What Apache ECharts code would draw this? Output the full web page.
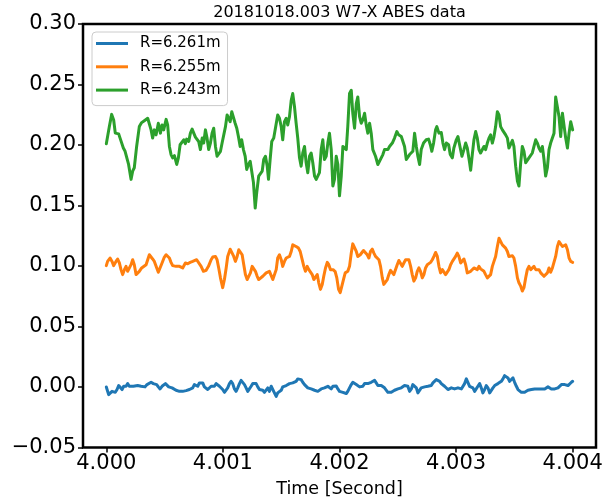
<!DOCTYPE html>
<html>
<head>
<meta charset="utf-8">
<title>20181018.003 W7-X ABES data</title>
<script src="https://cdn.jsdelivr.net/npm/echarts@6/dist/echarts.min.js"></script>
<style>
  html, body { margin: 0; padding: 0; background: #ffffff; }
  #chart { width: 603px; height: 501px; }
</style>
</head>
<body>
<div id="chart"></div>
<script>
// Time base of the window (seconds); sample times below are offsets in microseconds.
const T0 = 4.000;

const chartTitle = '20181018.003 W7-X ABES data';
const xAxisTitle = 'Time [Second]';
const seriesNames = ['R=6.261m', 'R=6.255m', 'R=6.243m'];
const seriesColors = ['#1f77b4', '#ff7f0e', '#2ca02c'];
const xTickValues = [4.000, 4.001, 4.002, 4.003, 4.004];
const yMin = -0.05, yMax = 0.30, yStep = 0.05;

// R = 6.261 m
const timeR6261 = [
  0,20,34,49,63,77,92,106,120,135,
  149,169,183,197,212,232,249,269,283,298,
  312,332,349,363,384,403,418,432,446,461,
  478,492,507,521,535,549,564,578,598,627,
  655,684,713,727,741,755,770,784,798,813,
  827,841,856,870,884,899,913,927,942,955,
  970,985,998,1013,1028,1041,1056,1070,1084,1099,
  1113,1127,1142,1156,1170,1185,1199,1213,1228,1242,
  1256,1271,1285,1299,1313,1328,1342,1356,1371,1385,
  1399,1414,1428,1442,1457,1470,1485,1500,1513,1528,
  1543,1556,1571,1586,1599,1614,1628,1642,1657,1671,
  1685,1700,1714,1728,1743,1757,1771,1786,1800,1814,
  1828,1843,1857,1871,1886,1900,1914,1929,1943,1957,
  1972,1986,2000,2015,2029,2043,2058,2071,2086,2101,
  2114,2129,2144,2157,2172,2186,2200,2215,2229,2243,
  2258,2272,2286,2301,2315,2329,2343,2358,2372,2386,
  2401,2415,2429,2444,2458,2472,2487,2501,2515,2530,
  2543,2558,2573,2586,2601,2616,2629,2644,2659,2672,
  2687,2701,2715,2730,2744,2758,2773,2787,2801,2816,
  2830,2844,2859,2873,2887,2901,2916,2930,2944,2959,
  2973,2987,3002,3016,3030,3045,3059,3073,3088,3101,
  3116,3131,3144,3159,3174,3187,3202,3216,3230,3245,
  3259,3273,3288,3302,3316,3331,3345,3359,3374,3388,
  3402,3416,3431,3445,3459,3474,3488,3502,3517,3531,
  3545,3560,3574,3588,3603,3616,3631,3646,3659,3674,
  3689,3702,3717,3732,3745,3760,3774,3788,3803,3817,
  3831,3846,3860,3874,3889,3903,3917,3932,3946,3960,
  3974,3989,4000
];
const valueR6261 = [
  0.0000,-0.0063,-0.0071,-0.0036,-0.0027,-0.0044,-0.0021,0.0012,0.0001,-0.0021,
  0.0006,0.0006,0.0028,0.0006,-0.0007,0.0006,0.0020,0.0012,0.0020,0.0006,
  -0.0007,0.0001,0.0020,0.0028,0.0039,0.0028,0.0039,0.0020,0.0001,-0.0016,
  0.0006,0.0020,0.0028,0.0012,0.0001,0.0006,-0.0007,-0.0016,-0.0027,-0.0036,
  -0.0036,-0.0030,-0.0021,-0.0007,-0.0007,0.0020,0.0034,0.0006,0.0034,0.0020,
  0.0034,0.0001,0.0006,-0.0021,-0.0007,0.0006,-0.0007,0.0006,0.0028,0.0039,
  0.0006,-0.0007,-0.0021,-0.0044,-0.0049,-0.0007,0.0028,0.0047,0.0028,-0.0016,
  -0.0036,-0.0007,0.0028,0.0055,0.0047,0.0020,-0.0007,-0.0036,-0.0027,0.0006,
  0.0028,0.0039,0.0028,0.0001,-0.0021,-0.0016,-0.0027,-0.0044,-0.0036,-0.0007,
  -0.0036,0.0006,-0.0007,-0.0049,-0.0077,-0.0049,-0.0036,-0.0027,0.0001,-0.0007,
  0.0012,0.0006,0.0028,0.0020,0.0034,0.0028,0.0047,0.0067,0.0067,0.0061,
  0.0039,0.0020,0.0006,-0.0007,-0.0021,-0.0016,-0.0021,-0.0027,-0.0021,-0.0036,
  -0.0027,-0.0016,-0.0027,-0.0007,-0.0007,0.0006,-0.0007,-0.0016,0.0006,0.0020,
  0.0008,-0.0016,-0.0036,-0.0036,-0.0044,-0.0049,-0.0054,-0.0036,-0.0007,0.0020,
  0.0039,0.0034,0.0020,0.0012,0.0001,-0.0007,0.0006,0.0028,0.0039,0.0028,
  0.0034,0.0039,0.0047,0.0055,0.0034,0.0012,0.0020,0.0012,0.0001,-0.0007,
  -0.0021,-0.0044,-0.0054,-0.0044,-0.0036,-0.0027,-0.0021,-0.0016,-0.0021,-0.0007,
  0.0001,0.0012,0.0028,0.0006,-0.0036,-0.0016,0.0020,0.0028,-0.0007,-0.0049,
  -0.0044,-0.0007,0.0006,0.0001,0.0006,0.0006,0.0020,0.0012,0.0034,0.0047,
  0.0061,0.0067,0.0047,0.0028,0.0012,0.0006,-0.0007,-0.0021,-0.0027,-0.0007,
  0.0001,-0.0016,-0.0021,-0.0007,0.0001,-0.0016,-0.0007,0.0028,0.0067,0.0039,
  0.0006,0.0001,-0.0007,-0.0036,-0.0027,0.0006,0.0028,-0.0007,-0.0049,-0.0021,
  0.0012,-0.0007,-0.0049,-0.0036,-0.0007,0.0012,0.0020,0.0028,0.0039,0.0047,
  0.0067,0.0094,0.0102,0.0075,0.0047,0.0061,0.0075,0.0039,0.0006,-0.0021,
  -0.0036,-0.0044,-0.0054,-0.0044,-0.0036,-0.0027,-0.0036,-0.0021,-0.0007,-0.0016,
  -0.0027,-0.0016,-0.0007,-0.0016,-0.0007,-0.0016,-0.0007,0.0001,-0.0007,-0.0016,
  -0.0007,-0.0016,-0.0021,-0.0007,0.0006,0.0020,0.0028,0.0020,0.0006,0.0012,
  0.0028,0.0039,0.0047
];

// R = 6.255 m
const timeR6255 = [
  0,11,32,49,63,83,97,112,126,140,
  155,169,183,197,212,226,240,255,269,283,
  303,320,341,355,369,384,397,412,427,446,
  461,478,498,513,526,541,555,569,598,627,
  655,678,698,719,741,755,775,792,813,833,
  856,876,899,913,936,950,964,979,998,1013,
  1028,1041,1062,1079,1093,1107,1122,1136,1150,1165,
  1179,1193,1208,1222,1236,1251,1264,1279,1294,1307,
  1322,1342,1356,1371,1385,1399,1414,1428,1442,1457,
  1470,1485,1500,1513,1528,1543,1556,1571,1586,1599,
  1614,1628,1648,1663,1680,1694,1708,1723,1737,1751,
  1766,1780,1794,1809,1822,1837,1852,1865,1880,1895,
  1908,1923,1945,1963,1977,1992,2006,2020,2034,2049,
  2071,2086,2101,2114,2129,2144,2157,2178,2192,2206,
  2223,2238,2252,2266,2281,2295,2309,2324,2338,2352,
  2367,2380,2395,2410,2423,2438,2453,2466,2481,2495,
  2509,2524,2538,2552,2567,2581,2595,2610,2624,2638,
  2653,2667,2681,2695,2710,2724,2738,2753,2767,2781,
  2796,2810,2824,2839,2853,2867,2882,2895,2910,2925,
  2938,2953,2968,2981,2996,3010,3024,3039,3053,3067,
  3082,3096,3110,3125,3139,3153,3168,3182,3196,3210,
  3225,3239,3253,3268,3282,3296,3311,3325,3339,3354,
  3368,3382,3397,3411,3425,3440,3453,3468,3483,3496,
  3511,3526,3539,3554,3568,3582,3597,3611,3625,3640,
  3654,3668,3683,3697,3711,3726,3740,3754,3768,3783,
  3797,3811,3826,3840,3854,3869,3883,3897,3912,3926,
  3940,3955,3969,3983,4000
];
const valueR6255 = [
  0.1003,0.1038,0.1066,0.1038,0.1003,0.1038,0.1058,0.1025,0.0970,0.0929,
  0.0970,0.0997,0.0956,0.0948,0.1011,0.1052,0.1011,0.0929,0.0921,0.0956,
  0.0984,0.0997,0.1011,0.1052,0.1093,0.1107,0.1058,0.1038,0.0997,0.0948,
  0.0956,0.1025,0.1074,0.1093,0.1093,0.1066,0.1030,0.1003,0.0997,0.0997,
  0.0984,0.1025,0.1019,0.1030,0.1038,0.1030,0.1052,0.1066,0.0997,0.0956,
  0.0964,0.0997,0.1052,0.1074,0.1079,0.1052,0.0984,0.0902,0.0821,0.0888,
  0.0984,0.1079,0.1139,0.1134,0.1079,0.1038,0.1079,0.1134,0.1148,0.1093,
  0.1011,0.0929,0.0888,0.0902,0.0943,0.0997,0.1011,0.0956,0.0915,0.0888,
  0.0902,0.0915,0.0902,0.0943,0.0929,0.0956,0.0970,0.0888,0.0902,0.0970,
  0.1066,0.1093,0.1052,0.0997,0.1038,0.1066,0.1052,0.1079,0.1120,0.1175,
  0.1183,0.1161,0.1148,0.1120,0.1052,0.0997,0.0956,0.0997,0.0970,0.0984,
  0.0929,0.0888,0.0902,0.0929,0.0861,0.0807,0.0848,0.0915,0.0984,0.1030,
  0.1011,0.0970,0.0970,0.0954,0.0902,0.0807,0.0780,0.0793,0.0888,0.0943,
  0.0956,0.0997,0.1107,0.1183,0.1175,0.1120,0.1079,0.1093,0.1107,0.1128,
  0.1112,0.1093,0.1066,0.1120,0.1139,0.1107,0.1079,0.1066,0.1052,0.0997,
  0.0902,0.0848,0.0848,0.0888,0.0929,0.0964,0.0956,0.0929,0.0943,0.1011,
  0.1046,0.1038,0.0997,0.1025,0.1052,0.1058,0.1052,0.0997,0.0929,0.0875,
  0.0902,0.0956,0.0984,0.0956,0.0902,0.0929,0.0984,0.1011,0.1025,0.1030,
  0.1052,0.1079,0.1112,0.1079,0.0997,0.0943,0.0970,0.0956,0.0929,0.0929,
  0.0970,0.1011,0.1038,0.1038,0.1079,0.1107,0.1079,0.1025,0.1038,0.1058,
  0.1011,0.0943,0.0929,0.0956,0.0970,0.0984,0.0984,0.0970,0.0997,0.0976,
  0.0970,0.0956,0.0929,0.0902,0.0888,0.0929,0.0997,0.1038,0.1079,0.1161,
  0.1229,0.1215,0.1175,0.1161,0.1148,0.1120,0.1079,0.1066,0.1085,0.1066,
  0.0997,0.0902,0.0861,0.0834,0.0793,0.0821,0.0902,0.0970,0.0997,0.0970,
  0.0984,0.0997,0.0970,0.0956,0.0970,0.0943,0.0948,0.0915,0.0902,0.0943,
  0.0984,0.0948,0.0984,0.0997,0.1079,0.1161,0.1202,0.1189,0.1161,0.1167,
  0.1175,0.1134,0.1066,0.1038,0.1030
];

// R = 6.243 m
const timeR6243 = [
  0,26,46,63,77,92,106,118,131,146,
  161,174,191,212,226,240,260,283,303,326,
  341,355,369,384,397,412,427,446,464,478,
  492,513,526,541,555,569,584,604,618,633,
  650,664,678,689,707,721,736,749,764,779,
  792,807,822,835,850,864,878,893,907,921,
  936,950,964,979,993,1007,1022,1036,1050,1062,
  1076,1090,1105,1119,1133,1148,1161,1176,1191,1204,
  1219,1234,1247,1262,1277,1290,1307,1322,1337,1350,
  1365,1380,1391,1405,1419,1436,1451,1470,1485,1500,
  1513,1528,1543,1556,1571,1586,1599,1614,1628,1642,
  1657,1671,1685,1700,1714,1728,1743,1757,1771,1786,
  1800,1814,1828,1843,1857,1871,1886,1900,1914,1929,
  1943,1957,1972,1986,2000,2015,2029,2043,2058,2071,
  2086,2101,2114,2129,2144,2157,2172,2186,2200,2215,
  2229,2243,2258,2272,2286,2309,2329,2343,2358,2372,
  2386,2401,2415,2429,2453,2472,2492,2507,2530,2543,
  2558,2573,2586,2601,2616,2629,2644,2659,2672,2687,
  2701,2721,2744,2764,2779,2792,2807,2824,2835,2853,
  2873,2887,2901,2916,2936,2950,2968,2981,3002,3016,
  3030,3050,3067,3082,3096,3116,3125,3139,3153,3168,
  3182,3196,3210,3225,3239,3253,3268,3282,3296,3311,
  3325,3339,3354,3368,3382,3397,3411,3425,3440,3453,
  3468,3483,3496,3511,3526,3539,3554,3568,3582,3597,
  3611,3625,3640,3654,3668,3683,3697,3711,3726,3740,
  3754,3768,3783,3797,3811,3826,3840,3854,3869,3883,
  3897,3912,3926,3940,3955,3969,3983,4000
];
const valueR6243 = [
  0.2011,0.2152,0.2253,0.2207,0.2098,0.2084,0.2092,0.2057,0.2065,0.1975,
  0.1948,0.1961,0.1839,0.1716,0.1784,0.1812,0.1988,0.2152,0.2185,0.2201,
  0.2193,0.2221,0.2207,0.2125,0.2057,0.2125,0.2084,0.2180,0.2098,0.2166,
  0.2125,0.2212,0.2166,0.1988,0.1921,0.1894,0.1912,0.1839,0.1894,0.2002,
  0.2016,0.2043,0.2011,0.2049,0.2029,0.2098,0.2131,0.2125,0.2065,0.2065,
  0.2029,0.1962,0.2057,0.2016,0.2125,0.2057,0.1962,0.2016,0.2098,0.2139,
  0.1988,0.1907,0.1894,0.1948,0.2016,0.2029,0.2152,0.2248,0.2262,0.2193,
  0.2275,0.2289,0.2180,0.2139,0.2070,0.1988,0.2043,0.1962,0.1907,0.1798,
  0.1839,0.1866,0.1873,0.1689,0.1479,0.1607,0.1743,0.1743,0.1784,0.1880,
  0.1907,0.1825,0.1716,0.1880,0.2029,0.2057,0.2049,0.2248,0.2221,0.2152,
  0.2043,0.2193,0.2221,0.2166,0.2234,0.2370,0.2425,0.2316,0.2180,0.2057,
  0.1894,0.1825,0.1934,0.1988,0.1853,0.1771,0.1907,0.1934,0.1853,0.1743,
  0.1716,0.1722,0.1771,0.1962,0.2043,0.1880,0.1907,0.2016,0.2098,0.1962,
  0.1661,0.1716,0.1907,0.1839,0.1580,0.1743,0.1988,0.2002,0.1962,0.2152,
  0.2425,0.2452,0.2262,0.2139,0.2343,0.2397,0.2234,0.2180,0.2207,0.2262,
  0.2166,0.2098,0.2180,0.2098,0.1962,0.1907,0.1839,0.1825,0.1894,0.1921,
  0.1962,0.1948,0.1962,0.1988,0.2016,0.2057,0.2111,0.2084,0.2070,0.2057,
  0.1988,0.1880,0.1866,0.1921,0.1934,0.1948,0.2098,0.1988,0.1907,0.1839,
  0.1962,0.2016,0.2043,0.2049,0.2002,0.1948,0.2016,0.2125,0.2152,0.2098,
  0.2103,0.2016,0.1962,0.2016,0.2002,0.1921,0.1894,0.1975,0.2043,0.2070,
  0.2002,0.1907,0.1962,0.2016,0.1975,0.1853,0.1792,0.1921,0.2043,0.2111,
  0.2057,0.1962,0.1934,0.1948,0.1988,0.1962,0.2016,0.2057,0.2084,0.2016,
  0.2070,0.2152,0.2275,0.2248,0.2152,0.2125,0.2125,0.2084,0.2057,0.1975,
  0.1962,0.2038,0.1988,0.1825,0.1702,0.1661,0.1853,0.1988,0.1948,0.1853,
  0.1866,0.1894,0.1907,0.1934,0.1988,0.2043,0.2016,0.1975,0.1948,0.1988,
  0.1880,0.1743,0.1812,0.1962,0.2016,0.2016,0.2098,0.2397,0.2411,0.2234,
  0.2070,0.2262,0.2275,0.2057,0.1975,0.2098,0.2193,0.2125
];

const FONT = '"DejaVu Sans", "Liberation Sans", sans-serif';

// Pair microsecond offsets with their signal values as [seconds, value].
function toPoints(timesUs, values) {
  const n = Math.min(timesUs.length, values.length);
  const pts = [];
  for (let i = 0; i < n; i++) pts.push([T0 + timesUs[i] * 1e-6, values[i]]);
  return pts;
}

const traces = [
  toPoints(timeR6261, valueR6261),
  toPoints(timeR6255, valueR6255),
  toPoints(timeR6243, valueR6243)
];

// Plot box (pixels)
const plotLeft = 83, plotRight = 596, plotTop = 24, plotBottom = 447.5;

const chart = echarts.init(document.getElementById('chart'), null, { renderer: 'canvas' });

chart.setOption({
  animation: false,
  backgroundColor: '#ffffff',
  textStyle: { fontFamily: FONT },
  grid: {
    left: plotLeft,
    right: 603 - plotRight,
    top: plotTop,
    bottom: 501 - plotBottom,
    containLabel: false,
    outerBoundsMode: 'none',
    show: true,
    borderColor: '#000000',
    borderWidth: 2.5,
    backgroundColor: 'transparent'
  },
  legend: {
    orient: 'vertical',
    left: 92,
    top: 32,
    data: seriesNames.map((name, i) => ({ name: name, icon: 'rect', itemStyle: { color: seriesColors[i] } })),
    itemWidth: 32,
    itemHeight: 3,
    itemGap: 8.3,
    padding: [4, 7, 8, 4],
    backgroundColor: 'rgba(255,255,255,0.8)',
    borderColor: '#cccccc',
    borderWidth: 1,
    borderRadius: 4,
    selectedMode: false,
    textStyle: { fontFamily: FONT, fontSize: 15, lineHeight: 15, color: '#000000', padding: [0, 0, 0, 7] }
  },
  xAxis: {
    type: 'value',
    min: 3.9998,
    max: 4.0042,
    name: xAxisTitle,
    nameLocation: 'middle',
    nameGap: 33,
    nameTextStyle: { fontFamily: FONT, fontSize: 17.5, color: '#000000' },
    axisLine: { show: false, onZero: false },
    splitLine: { show: false },
    axisTick: {
      show: true,
      customValues: xTickValues,
      length: 5,
      lineStyle: { color: '#000000', width: 1.5 }
    },
    axisLabel: {
      customValues: xTickValues,
      margin: 6,
      fontFamily: FONT,
      fontSize: 21,
      color: '#000000',
      formatter: v => v.toFixed(3)
    }
  },
  yAxis: {
    type: 'value',
    min: yMin,
    max: yMax,
    interval: yStep,
    axisLine: { show: false, onZero: false },
    splitLine: { show: false },
    axisTick: {
      show: true,
      length: 5,
      lineStyle: { color: '#000000', width: 1.5 }
    },
    axisLabel: {
      margin: 7,
      fontFamily: FONT,
      fontSize: 21,
      color: '#000000',
      formatter: v => (v < -1e-9 ? '\u2212' : '') + Math.abs(v).toFixed(2)
    }
  },
  graphic: [{
    type: 'text',
    x: (plotLeft + plotRight) / 2,
    y: 13,
    silent: true,
    style: {
      text: chartTitle,
      fill: '#000000',
      font: '16px ' + FONT,
      textAlign: 'center',
      textVerticalAlign: 'middle'
    }
  }],
  series: traces.map((pts, i) => ({
    name: seriesNames[i],
    type: 'line',
    data: pts,
    showSymbol: false,
    symbol: 'none',
    clip: true,
    lineStyle: { color: seriesColors[i], width: 3, join: 'round', cap: 'round' },
    itemStyle: { color: seriesColors[i] },
    emphasis: { disabled: true },
    z: 2 + i
  }))
});
</script>
</body>
</html>
